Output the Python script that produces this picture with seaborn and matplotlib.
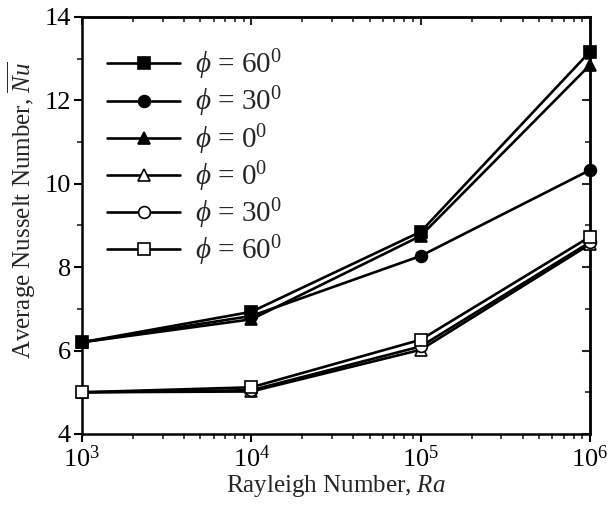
import numpy as np
import pandas as pd
import matplotlib
matplotlib.use("Agg")
import matplotlib.pyplot as plt
import seaborn as sns
from matplotlib.ticker import FixedLocator, LogLocator, NullFormatter

ra = [1e3, 1e4, 1e5, 1e6]
labels = [r'$\phi$ = 60$^0$', r'$\phi$ = 30$^0$', r'$\phi$ = 0$^0$',
          r'$\phi$ = 0$^0$', r'$\phi$ = 30$^0$', r'$\phi$ = 60$^0$']
nu_f60 = [6.2, 6.93, 8.85, 13.17]
nu_f30 = [6.2, 6.83, 8.27, 10.33]
nu_f0 = [6.2, 6.75, 8.75, 12.85]
nu_o0 = [5.0, 5.02, 6.02, 8.55]
nu_o30 = [5.0, 5.05, 6.1, 8.6]
nu_o60 = [5.0, 5.12, 6.26, 8.73]
series = [nu_f60, nu_f30, nu_f0, nu_o0, nu_o30, nu_o60]
markers = ['s', 'o', '^', '^', 'o', 's']
fills = ['black', 'black', 'black', 'white', 'white', 'white']
xtick_vals = [1e3, 1e4, 1e5, 1e6]
xtick_labels = [r'10$^3$', r'10$^4$', r'10$^5$', r'10$^6$']

sns.set_style("ticks")
plt.rcParams['font.family'] = ['Liberation Serif', 'DejaVu Serif']
plt.rcParams['mathtext.fontset'] = 'custom'
plt.rcParams['mathtext.rm'] = 'Liberation Serif'
plt.rcParams['mathtext.it'] = 'Liberation Serif:italic'

fig = plt.figure(figsize=(6.13, 5.05), dpi=100)
ax = fig.add_axes([82/613, 1-434/505, (590-82)/613, (434-17)/505])

for y, lab, m, fc in zip(series, labels, markers, fills):
    df = pd.DataFrame({'Ra': ra, 'Nu': y})
    sns.lineplot(data=df, x='Ra', y='Nu', ax=ax, color='black', lw=1.9,
                 marker=m, markersize=8.5, markerfacecolor=fc,
                 markeredgecolor='black', markeredgewidth=1.2, label=lab,
                 clip_on=False, zorder=3)

ax.set_xscale('log')
ax.set_xlim(1e3, 1e6)
ax.set_ylim(4, 14)
ax.set_yticks([4, 6, 8, 10, 12, 14])
ax.yaxis.set_minor_locator(FixedLocator([5, 7, 9, 11, 13]))
ax.xaxis.set_major_locator(FixedLocator(xtick_vals))
ax.xaxis.set_minor_locator(LogLocator(base=10, subs=np.arange(2, 10), numticks=20))
ax.xaxis.set_minor_formatter(NullFormatter())
ax.set_xticklabels(xtick_labels)

for s in ax.spines.values():
    s.set_linewidth(1.8)
    s.set_color('black')
ax.tick_params(axis='both', which='major', labelsize=19, length=6, width=1.5,
               direction='out', colors='black', pad=2)
ax.tick_params(axis='both', which='minor', length=3.5, width=1.2, direction='out')

# mirrored ticks on top/right pointing inward (Origin style)
top = ax.secondary_xaxis('top')
top.xaxis.set_major_locator(FixedLocator(xtick_vals))
top.xaxis.set_minor_locator(LogLocator(base=10, subs=np.arange(2, 10), numticks=20))
top.xaxis.set_major_formatter(NullFormatter())
top.xaxis.set_minor_formatter(NullFormatter())
top.tick_params(which='major', direction='in', length=6, width=1.5)
top.tick_params(which='minor', direction='in', length=3.5, width=1.2)
top.spines['top'].set_linewidth(1.8)

right = ax.secondary_yaxis('right')
right.yaxis.set_major_locator(FixedLocator([4, 6, 8, 10, 12, 14]))
right.yaxis.set_minor_locator(FixedLocator([5, 7, 9, 11, 13]))
right.yaxis.set_major_formatter(NullFormatter())
right.tick_params(which='major', direction='in', length=6, width=1.5)
right.tick_params(which='minor', direction='in', length=3.5, width=1.2)
right.spines['right'].set_linewidth(1.8)

ax.set_xlabel(r'Rayleigh Number, $Ra$', fontsize=18, labelpad=1)
ax.set_ylabel(r'Average Nusselt Number, $\overline{Nu}$', fontsize=18)
ax.yaxis.set_label_coords(-0.086, 0.537)

leg = ax.legend(loc='upper left', bbox_to_anchor=(0.01, 0.975), frameon=False,
                fontsize=21, handlelength=2.5, handletextpad=0.5,
                labelspacing=0.09, borderaxespad=0.3)

fig.savefig('out.png', dpi=100)
